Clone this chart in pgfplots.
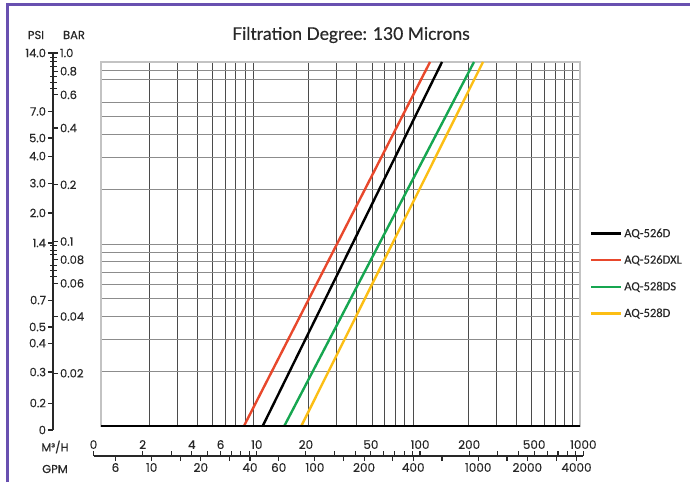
\documentclass[border=0pt]{standalone}
\usepackage{pgfplots}
\pgfplotsset{compat=1.18}
\usepackage{fontspec}
\setmainfont[FakeBold=0.35]{Poppins}
\newfontfamily\legfont[FakeBold=0.3]{Carlito}
\newfontfamily\titlefont[FakeBold=0.5]{Lato}

\definecolor{purpleframe}{RGB}{104,80,176}
\definecolor{vgrid}{RGB}{75,75,75}
\definecolor{hgrid}{RGB}{140,140,140}
\definecolor{border}{RGB}{195,195,195}
\definecolor{txt}{RGB}{40,40,40}
\definecolor{cred}{RGB}{232,72,44}
\definecolor{cgreen}{RGB}{22,166,80}
\definecolor{cyellow}{RGB}{252,190,20}

\pgfplotsset{
  scalefont/.style={font=\fontsize{11.5}{13}\selectfont, text=txt},
}

\begin{document}
\begin{tikzpicture}
\path[use as bounding box] (0pt,0pt) rectangle (690pt,482pt);
\draw[purpleframe, line width=3pt] (7pt,0pt) -- (7pt,477pt) -- (690pt,477pt);

\node[font=\titlefont\fontsize{17.5}{20}\selectfont, text=txt] at (351pt,447pt) {Filtration Degree: 130 Microns};
\node[font=\fontsize{11.5}{13}\selectfont, text=txt] at (36pt,447pt) {PSI};
\node[font=\fontsize{11.5}{13}\selectfont, text=txt] at (74pt,447pt) {BAR};
\node[font=\fontsize{11.5}{13}\selectfont, text=txt] at (55pt,35pt) {M³/H};
\node[font=\fontsize{11.5}{13}\selectfont, text=txt] at (55pt,13pt) {GPM};

% main chart
\begin{axis}[
  at={(101pt,56pt)}, anchor=south west,
  scale only axis, width=479pt, height=364pt,
  xmode=log, ymode=log,
  xmin=1, xmax=1000, ymin=0.01, ymax=1,
  enlargelimits=false,
  xtick={2,3,4,5,6,7,8,9,20,30,40,50,60,70,80,90,200,300,400,500,600,700,800,900},
  ytick={0.02,0.03,0.04,0.05,0.06,0.07,0.08,0.09,0.1,0.2,0.3,0.4,0.5,0.6,0.8,0.9},
  xticklabels={}, yticklabels={},
  major tick length=0pt, minor tick length=0pt,
  xmajorgrids, ymajorgrids,
  x grid style={vgrid, line width=0.9pt},
  y grid style={hgrid, line width=1pt},
  axis line style={border, line width=1.6pt},
  legend cell align=left,
  legend style={at={(1.02,0.548)}, anchor=north west, draw=none, fill=none,
    font=\legfont\fontsize{12.5}{14}\selectfont, text=txt, row sep=12.6pt, inner sep=0pt},
  legend image code/.code={\draw[#1, line width=2.5pt] (0pt,0pt) -- (30pt,0pt);},
]
\addplot[black, line width=2.4pt] coordinates {(10.3,0.01) (136.7,1)};
\addplot[cred, line width=2.4pt] coordinates {(7.86,0.01) (115.0,1)};
\addplot[cgreen, line width=2.4pt] coordinates {(14.06,0.01) (216.8,1)};
\addplot[cyellow, line width=2.4pt] coordinates {(17.97,0.01) (246.9,1)};
\legend{AQ-526D, AQ-526DXL, AQ-528DS, AQ-528D}
\end{axis}

% bottom line of the chart
\begin{axis}[
  at={(101pt,56pt)}, anchor=south west,
  scale only axis, width=479pt, height=364pt,
  xmode=log, xmin=1, xmax=1000, ymin=0, ymax=1,
  hide y axis, axis x line*=bottom, xtick=\empty,
  axis line style={-, black, line width=1.2pt},
]
\end{axis}

% PSI scale
\begin{axis}[
  at={(53pt,52pt)}, anchor=south west,
  scale only axis, width=10pt, height=377pt,
  ymode=log, ymin=0.01, ymax=1, xmin=0, xmax=1,
  enlargelimits=false,
  hide x axis, axis y line*=left,
  axis line style={-, txt, line width=1.1pt},
  tick align=outside, major tick length=5pt,
  tick style={txt, line width=1.1pt},
  ytick={0.01,0.0139,0.0203,0.0289,0.0352,0.0489,0.0982,0.1417,0.204,0.284,0.354,0.49,1},
  yticklabels={0,0.2,0.3,0.4,0.5,0.7,1.4,2.0,3.0,4.0,5.0,7.0,14.0},
  yticklabel style={scalefont, xshift=1.5pt},
  minor tick length=0pt,
]
\end{axis}

% BAR scale
\begin{axis}[
  at={(53pt,52pt)}, anchor=south east,
  scale only axis, width=10pt, height=377pt,
  ymode=log, ymin=0.01, ymax=1, xmin=0, xmax=1,
  enlargelimits=false,
  hide x axis, axis y line*=right,
  axis line style={-, txt, line width=1.1pt},
  tick align=outside, major tick length=5pt,
  tick style={txt, line width=1.1pt},
  ytick={0.02,0.04,0.06,0.08,0.1,0.2,0.4,0.6,0.8,1},
  yticklabels={0.02,0.04,0.06,0.08,0.1,0.2,0.4,0.6,0.8,1.0},
  yticklabel style={scalefont, xshift=-1.5pt},
  extra y ticks={0.065,0.07,0.075,0.085,0.09,0.095,0.65,0.7,0.75,0.85,0.9,0.95},
  extra y tick labels={},
  extra y tick style={tick align=center, major tick length=7pt},
  minor tick length=0pt,
]
\end{axis}

% M3/H scale
\begin{axis}[
  at={(93.5pt,26pt)}, anchor=north west,
  scale only axis, width=489.8pt, height=10pt,
  xmode=log, xmin=1, xmax=1000, ymin=0, ymax=1,
  enlargelimits=false,
  hide y axis, axis x line*=top,
  axis line style={-, txt, line width=1.1pt},
  tick align=outside, major tick length=5pt,
  tick style={txt, line width=1.1pt},
  xtick={1,2,4,6,10,20,50,100,200,500,1000},
  xticklabels={0,2,4,6,10,20,50,100,200,500,1000},
  xticklabel style={scalefont, font=\fontsize{12}{14}\selectfont, yshift=-1.5pt},
  extra x ticks={3,5,7,8,9,30,40,60,70,80,90,300,400,600,700,800,900},
  extra x tick labels={},
  minor tick length=0pt,
]
\end{axis}

% GPM scale
\begin{axis}[
  at={(93.5pt,26pt)}, anchor=south west,
  scale only axis, width=489.8pt, height=10pt,
  xmode=log, xmin=1, xmax=1000, ymin=0, ymax=1,
  enlargelimits=false,
  hide y axis, axis x line*=bottom,
  axis line style={-, txt, line width=1.1pt},
  tick align=outside, major tick length=5pt,
  tick style={txt, line width=1.1pt},
  xtick={1.3627,2.2712,4.5424,9.0847,13.627,22.712,45.424,90.847,227.12,454.24,908.47},
  xticklabels={6,10,20,40,60,100,200,400,1000,2000,4000},
  xticklabel style={scalefont, font=\fontsize{12}{14}\selectfont, yshift=1.5pt},
  extra x ticks={3.4068,6.8135,34.068,68.135,136.27,340.68,681.35},
  extra x tick labels={},
  minor tick length=0pt,
]
\end{axis}
\end{tikzpicture}
\end{document}
